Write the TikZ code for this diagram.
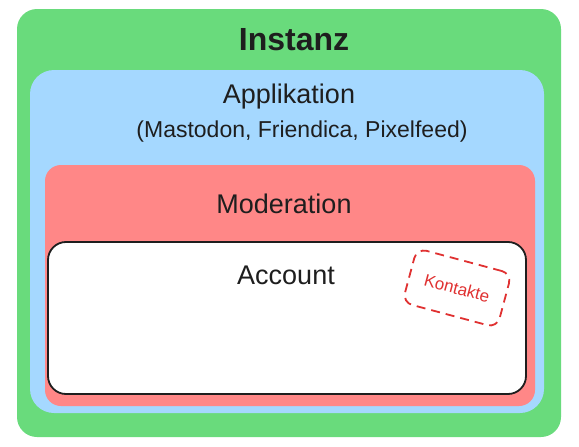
\documentclass[tikz,border=0pt]{standalone}
\usepackage{fontspec}
\setmainfont{Liberation Sans}
\usepackage{xcolor}
\usetikzlibrary{positioning}
\definecolor{lyGreen}{HTML}{69DB7C}
\definecolor{lyBlue}{HTML}{A5D8FF}
\definecolor{lyRed}{HTML}{FF8787}
\definecolor{lyInk}{HTML}{1E1E1E}
\definecolor{lyTag}{HTML}{E03131}
\tikzset{
  layer box/.style={rounded corners=20pt,inner sep=0pt,draw=none},
  account box/.style={layer box,fill=white,draw=lyInk,line width=1.8pt,rounded corners=18pt},
  layer title/.style={text=lyInk,inner sep=0pt,font=\fontsize{27}{31}\selectfont},
  layer note/.style={layer title,font=\fontsize{23}{27}\selectfont},
  contact tag/.style={draw=lyTag,text=lyTag,dash pattern=on 9pt off 6pt,line width=1.8pt,
    rounded corners=10pt,minimum width=98pt,minimum height=56pt,inner sep=2pt,
    font=\fontsize{17}{20}\selectfont}
}
\begin{document}
\begin{tikzpicture}[x=1pt,y=-1pt]
\useasboundingbox (0,0) rectangle (579,447);
\node[layer box,fill=lyGreen,minimum width=544pt,minimum height=428pt] (instanz) at (289,223) {};
\node[layer box,fill=lyBlue,minimum width=514pt,minimum height=343pt,rounded corners=24pt] (applikation) at (287,241.5) {};
\node[layer box,fill=lyRed,minimum width=490pt,minimum height=241pt,rounded corners=16pt] (moderation) at (290,285.5) {};
\node[account box,minimum width=478pt,minimum height=152pt] (account) at (287,318) {};
\node[layer title,font=\bfseries\fontsize{32}{36}\selectfont] (instanzlabel) at (294,40) {Instanz};
\node[layer title] (applabel) at (289,97) {Applikation};
\node[layer note] (appnote) at (302,132) {(Mastodon, Friendica, Pixelfeed)};
\node[layer title] (modlabel) at (284,204) {Moderation};
\node[layer title] (accountlabel) at (286,275) {Account};
\node[contact tag,rotate=-15] (kontakte) at (457,288) {Kontakte};
\end{tikzpicture}
\end{document}
